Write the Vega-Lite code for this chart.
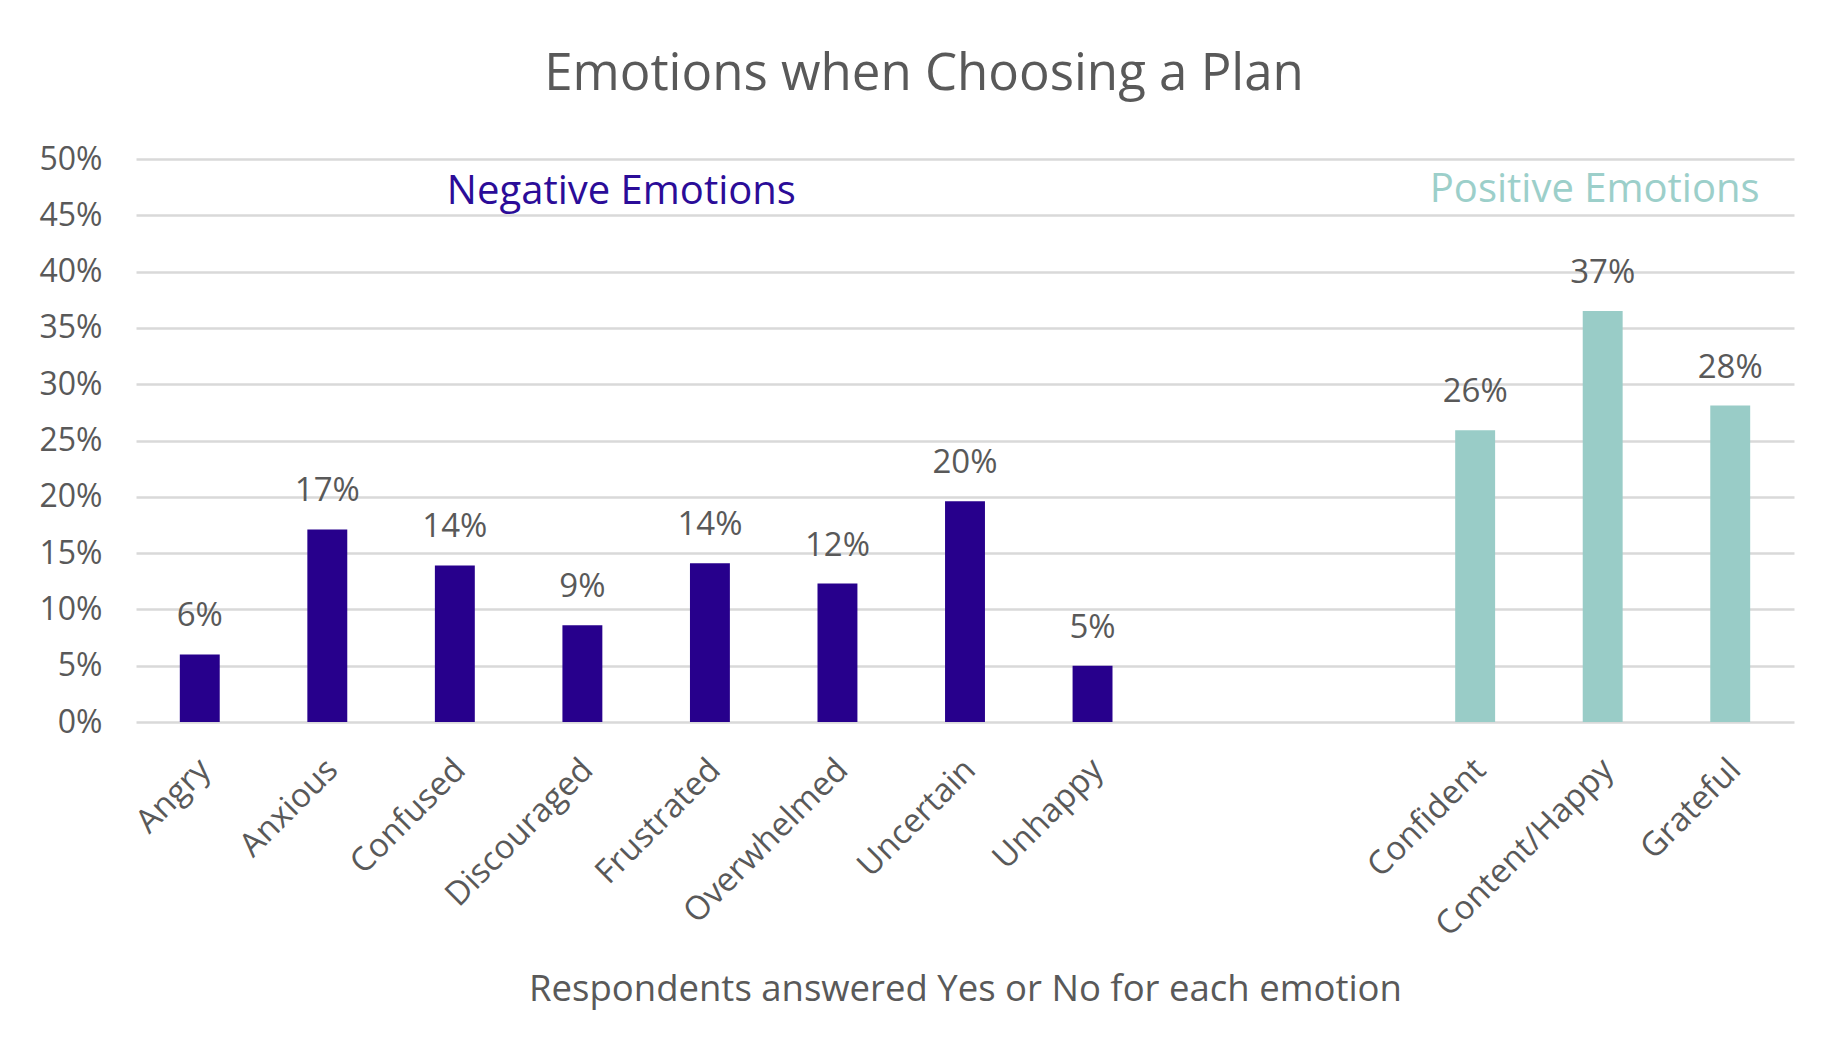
{
  "$schema": "https://vega.github.io/schema/vega-lite/v6.json",
  "width": 1658,
  "height": 563,
  "autosize": {"type": "none"},
  "padding": {"left": 136, "top": 159, "right": 35, "bottom": 337},
  "background": "white",
  "title": {
    "text": "Emotions when Choosing a Plan",
    "font": "Open Sans",
    "fontSize": 51,
    "fontWeight": "normal",
    "color": "#595959",
    "anchor": "middle",
    "dx": -41,
    "offset": 2,
    "baseline": "alphabetic"
  },
  "config": {"view": {"stroke": null}, "font": "Open Sans"},
  "datasets": {
    "bars": [
      {"emotion": "Angry", "share": 0.060, "group": "Negative"},
      {"emotion": "Anxious", "share": 0.171, "group": "Negative"},
      {"emotion": "Confused", "share": 0.139, "group": "Negative"},
      {"emotion": "Discouraged", "share": 0.086, "group": "Negative"},
      {"emotion": "Frustrated", "share": 0.141, "group": "Negative"},
      {"emotion": "Overwhelmed", "share": 0.123, "group": "Negative"},
      {"emotion": "Uncertain", "share": 0.196, "group": "Negative"},
      {"emotion": "Unhappy", "share": 0.050, "group": "Negative"},
      {"emotion": "Confident", "share": 0.259, "group": "Positive"},
      {"emotion": "Content/Happy", "share": 0.365, "group": "Positive"},
      {"emotion": "Grateful", "share": 0.281, "group": "Positive"}
    ],
    "notesNeg": [
      {"note": "Negative Emotions", "emotion": "Discouraged", "share": 0.460, "group": "Negative"}
    ],
    "notesPos": [
      {"note": "Positive Emotions", "emotion": "Content/Happy", "share": 0.462, "group": "Positive"}
    ]
  },
  "encoding": {
    "x": {
      "field": "emotion",
      "type": "nominal",
      "sort": null,
      "scale": {
        "domain": ["Angry", "Anxious", "Confused", "Discouraged", "Frustrated", "Overwhelmed", "Uncertain", "Unhappy", " ", "  ", "Confident", "Content/Happy", "Grateful"],
        "paddingInner": 0.687,
        "paddingOuter": 0.3435
      },
      "axis": {
        "title": "Respondents answered Yes or No for each emotion",
        "labelAngle": -45,
        "labelAlign": "right",
        "labelBaseline": "top",
        "labelFont": "Open Sans",
        "labelFontSize": 33,
        "labelColor": "#595959",
        "labelPadding": 31,
        "labelOffset": -6,
        "labelLimit": 0,
        "titleFont": "Open Sans",
        "titleFontSize": 36.5,
        "titleFontWeight": "normal",
        "titleColor": "#595959",
        "titleY": 278,
        "titleBaseline": "alphabetic",
        "ticks": false,
        "domain": false,
        "grid": false
      }
    },
    "y": {
      "field": "share",
      "type": "quantitative",
      "scale": {"domain": [0, 0.5], "nice": false},
      "axis": {
        "title": null,
        "values": [0, 0.05, 0.1, 0.15, 0.2, 0.25, 0.3, 0.35, 0.4, 0.45, 0.5],
        "format": ".0%",
        "labelFont": "Open Sans",
        "labelFontSize": 32,
        "labelColor": "#595959",
        "labelPadding": 34,
        "ticks": false,
        "domain": false,
        "grid": true,
        "gridColor": "#D9D9D9",
        "gridWidth": 2.5
      }
    }
  },
  "layer": [
    {
      "data": {"name": "bars"},
      "mark": {"type": "bar"},
      "encoding": {
        "color": {
          "field": "group",
          "type": "nominal",
          "scale": {"domain": ["Negative", "Positive"], "range": ["#27008C", "#99CCC7"]},
          "legend": null
        }
      }
    },
    {
      "data": {"name": "bars"},
      "mark": {"type": "text", "baseline": "alphabetic", "dy": -28, "fontSize": 33, "color": "#595959", "font": "Open Sans"},
      "encoding": {
        "text": {"field": "share", "type": "quantitative", "format": ".0%"}
      }
    },
    {
      "data": {"name": "notesNeg"},
      "mark": {"type": "text", "baseline": "alphabetic", "dx": 39, "fontSize": 40, "color": "#2B0C98", "font": "Open Sans"},
      "encoding": {
        "text": {"field": "note", "type": "nominal"}
      }
    },
    {
      "data": {"name": "notesPos"},
      "mark": {"type": "text", "baseline": "alphabetic", "dx": -8, "fontSize": 40, "color": "#9CCFCA", "font": "Open Sans"},
      "encoding": {
        "text": {"field": "note", "type": "nominal"}
      }
    }
  ]
}
